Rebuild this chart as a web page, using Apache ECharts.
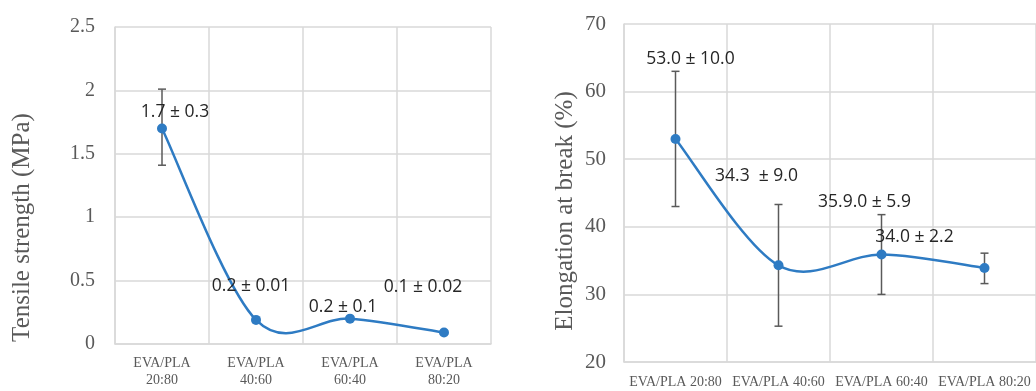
<!DOCTYPE html>
<html>
<head>
<meta charset="utf-8">
<script src="https://cdn.jsdelivr.net/npm/echarts@6/dist/echarts.min.js"></script>
<style>
html,body{margin:0;padding:0;background:#fff;}
#c{width:1036px;height:391px;}
</style>
</head>
<body>
<div id="c"></div>
<script>
// ---- data ----
const categoriesLeft = ['EVA/PLA\n20:80', 'EVA/PLA\n40:60', 'EVA/PLA\n60:40', 'EVA/PLA\n80:20'];
const categoriesRight = ['EVA/PLA 20:80', 'EVA/PLA 40:60', 'EVA/PLA 60:40', 'EVA/PLA 80:20'];
const tensileMean = [1.70, 0.19, 0.20, 0.09];
const tensileErrLow = [1.41, 0.19, 0.20, 0.09];
const tensileErrHigh = [2.01, 0.19, 0.20, 0.09];
const tensileLabels = ['1.7 ± 0.3', '0.2 ± 0.01', '0.2 ± 0.1', '0.1 ± 0.02'];
const elongMean = [53.0, 34.3, 35.9, 33.9];
const elongErrLow = [43.0, 25.3, 30.0, 31.6];
const elongErrHigh = [63.0, 43.3, 41.8, 36.1];
const elongLabels = ['53.0 ± 10.0', '34.3  ± 9.0', '35.9.0 ± 5.9', '34.0 ± 2.2'];
const tensileTicks = { min: 0, max: 2.5, interval: 0.5 };
const elongTicks = { min: 20, max: 70, interval: 10 };

// ---- style (label placement relative to each point) ----
const tensileLabelOffsets = [[13, -16], [-5, -34], [-7, -12], [-21, -46]];
const elongLabelOffsets = [[15, -80], [-22, -89], [-17, -53], [-70, -31]];

const LINE = '#2E7BC3';
const GRID = '#D9D9D9';
const TXT = '#595959';
const SERIF = '"Liberation Serif", "DejaVu Serif", serif';
const SANS = '"Open Sans", "Noto Sans", sans-serif';

function errData(lo, hi) { return lo.map((v, i) => [i, v, hi[i]]); }
function errRender(params, api) {
  const x = api.value(0);
  const lo = api.coord([x, api.value(1)]);
  const hi = api.coord([x, api.value(2)]);
  if (Math.abs(lo[1] - hi[1]) < 0.5) return { type: 'group', children: [] };
  const w = 4;
  const st = { stroke: '#5A5A5A', lineWidth: 1.5 };
  return {
    type: 'group',
    children: [
      { type: 'line', shape: { x1: lo[0], y1: lo[1], x2: hi[0], y2: hi[1] }, style: st },
      { type: 'line', shape: { x1: lo[0] - w, y1: lo[1], x2: lo[0] + w, y2: lo[1] }, style: st },
      { type: 'line', shape: { x1: hi[0] - w, y1: hi[1], x2: hi[0] + w, y2: hi[1] }, style: st }
    ]
  };
}
// Excel-like smoothed line (Catmull-Rom segments through the data points, via axis coords)
function smoothRender(vals) {
  return function (params, api) {
    const i = api.value(0);
    const n = vals.length;
    if (i >= n - 1) return { type: 'group', children: [] };
    const P = j => api.coord([Math.max(0, Math.min(n - 1, j)), vals[Math.max(0, Math.min(n - 1, j))]]);
    const p0 = P(i - 1), p1 = P(i), p2 = P(i + 1), p3 = P(i + 2);
    const k = 1 / 6;
    const c1 = [p1[0] + (p2[0] - p0[0]) * k, p1[1] + (p2[1] - p0[1]) * k];
    const c2 = [p2[0] - (p3[0] - p1[0]) * k, p2[1] - (p3[1] - p1[1]) * k];
    return {
      type: 'bezierCurve',
      shape: { x1: p1[0], y1: p1[1], x2: p2[0], y2: p2[1], cpx1: c1[0], cpy1: c1[1], cpx2: c2[0], cpy2: c2[1] },
      style: { stroke: LINE, lineWidth: 2.5, fill: null }
    };
  };
}
function pointData(vals, labels, offsets) {
  return vals.map((v, i) => ({
    value: [i, v],
    label: { formatter: labels[i], offset: offsets[i] }
  }));
}
function yAxis(gi, ticks, name, fs, gap, margin, shiftDown) {
  return {
    gridIndex: gi, type: 'value', min: ticks.min, max: ticks.max, interval: ticks.interval,
    name: name, nameLocation: 'middle', nameGap: gap,
    nameTextStyle: { fontFamily: SERIF, fontSize: 25, color: TXT, padding: [0, shiftDown * 2, 0, 0] },
    axisLine: { show: true, lineStyle: { color: GRID, width: 1.5 } },
    axisTick: { show: false },
    axisLabel: { fontFamily: SERIF, fontSize: fs, color: TXT, margin: margin },
    splitLine: { show: true, lineStyle: { color: GRID, width: 1.5 } }
  };
}
function xAxis(gi, cats, margin) {
  return {
    gridIndex: gi, type: 'category', data: cats, boundaryGap: true,
    axisLine: { show: true, lineStyle: { color: GRID, width: 1.5 } },
    axisTick: { show: false },
    axisLabel: { fontFamily: SERIF, fontSize: 14, color: TXT, margin: margin, interval: 0, lineHeight: 17 },
    splitLine: { show: true, lineStyle: { color: GRID, width: 1.5 } }
  };
}
const labelStyle = { show: true, position: 'inside', fontFamily: SANS, fontSize: 17.5, color: '#262626' };

const option = {
  animation: false,
  backgroundColor: '#fff',
  grid: [
    { left: 115, right: 545, top: 27, bottom: 47 },
    { left: 624, right: -3, top: 24, bottom: 25 }
  ],
  xAxis: [xAxis(0, categoriesLeft, 11), xAxis(1, categoriesRight, 12)],
  yAxis: [
    yAxis(0, tensileTicks, 'Tensile strength (MPa)', 20, 80, 20, 42),
    yAxis(1, elongTicks, 'Elongation at break (%)', 21, 46, 18, 18)
  ],
  series: [
    { type: 'custom', xAxisIndex: 0, yAxisIndex: 0, data: errData(tensileErrLow, tensileErrHigh), renderItem: errRender, z: 1 },
    { type: 'custom', xAxisIndex: 0, yAxisIndex: 0, data: tensileMean.map((v, i) => [i, v]), renderItem: smoothRender(tensileMean), z: 2 },
    { type: 'scatter', xAxisIndex: 0, yAxisIndex: 0, data: pointData(tensileMean, tensileLabels, tensileLabelOffsets),
      symbol: 'circle', symbolSize: 10, itemStyle: { color: LINE, opacity: 1 }, label: labelStyle, z: 3 },
    { type: 'custom', xAxisIndex: 1, yAxisIndex: 1, data: errData(elongErrLow, elongErrHigh), renderItem: errRender, z: 1 },
    { type: 'custom', xAxisIndex: 1, yAxisIndex: 1, data: elongMean.map((v, i) => [i, v]), renderItem: smoothRender(elongMean), z: 2 },
    { type: 'scatter', xAxisIndex: 1, yAxisIndex: 1, data: pointData(elongMean, elongLabels, elongLabelOffsets),
      symbol: 'circle', symbolSize: 10, itemStyle: { color: LINE, opacity: 1 }, label: labelStyle, z: 3 }
  ]
};
const chart = echarts.init(document.getElementById('c'), null, { renderer: 'canvas' });
chart.setOption(option);
</script>
</body>
</html>
